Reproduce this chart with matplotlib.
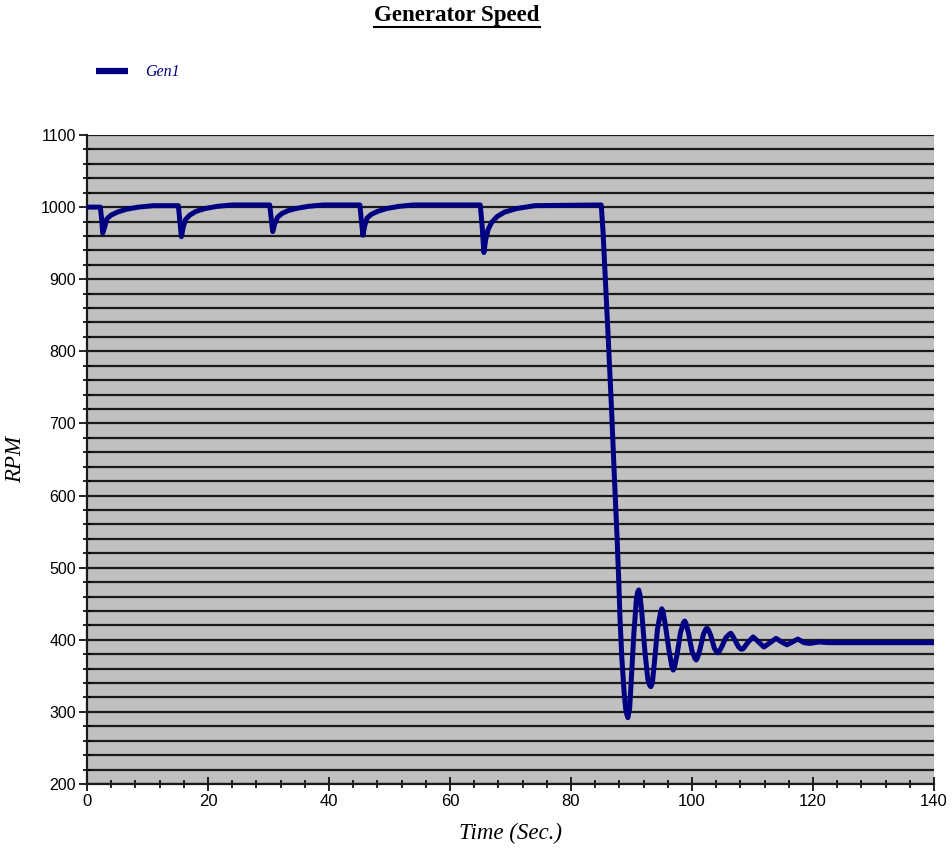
import matplotlib
matplotlib.use("Agg")
import matplotlib.pyplot as plt
from matplotlib.lines import Line2D
from matplotlib.ticker import MultipleLocator

# ---- data ----
time_s = [
    0.0, 2.2, 2.4, 2.6, 2.9, 3.3, 4.0, 5.0, 6.5, 8.5, 11.0, 15.1,
    15.3, 15.6, 15.9, 16.3, 17.0, 18.0, 19.5, 21.5, 24.0, 30.2,
    30.4, 30.7, 31.0, 31.5, 32.2, 33.2, 34.5, 36.5, 39.0, 45.1,
    45.3, 45.6, 45.9, 46.3, 47.0, 48.0, 49.5, 51.5, 54.0, 65.0,
    65.3, 65.6, 65.9, 66.3, 66.9, 67.8, 69.0, 71.0, 74.0, 85.0,
    85.3, 85.8, 86.2, 86.7, 87.2, 87.6, 87.9, 88.1, 88.4, 88.8,
    89.1, 89.4, 89.7, 90.0, 90.4, 90.8, 91.0, 91.2, 91.4, 91.7,
    92.2, 92.7, 93.0, 93.2, 93.45, 93.8, 94.3, 94.8, 95.0, 95.2,
    95.6, 96.2, 96.7, 96.9, 97.1, 97.5, 98.1, 98.6, 98.8, 99.0,
    99.4, 100.0, 100.5, 100.7, 100.9, 101.3, 101.9, 102.3, 102.5, 102.7,
    103.1, 103.7, 104.1, 104.3, 104.5, 104.9, 105.6, 106.2, 106.4, 106.6,
    107.0, 107.7, 108.1, 108.3, 108.5, 109.2, 110.1, 111.0, 111.9, 112.9,
    113.9, 114.8, 115.7, 116.6, 117.5, 118.5, 119.5, 121.0, 122.5, 125.0,
    130.0, 135.0, 140.0,
]
rpm = [
    1000, 1000, 985, 964, 972, 984, 989, 993, 997, 1000, 1002, 1002,
    985, 959, 972, 983, 989, 994, 998, 1001, 1003, 1003,
    988, 966, 976, 986, 991, 995, 998, 1001, 1003, 1003,
    986, 961, 974, 985, 990, 994, 998, 1001, 1003, 1003,
    975, 937, 955, 969, 979, 987, 993, 998, 1002, 1003,
    965, 880, 810, 720, 620, 545, 480, 430, 375, 325,
    300, 292, 305, 350, 410, 455, 466, 469, 462, 438,
    385, 345, 337, 335, 340, 370, 415, 438, 443, 440,
    420, 385, 362, 358, 362, 378, 410, 424, 426, 423,
    410, 384, 374, 372, 375, 386, 408, 415, 416, 414,
    406, 388, 383, 382, 384, 390, 403, 408, 409, 407,
    401, 390, 387, 387, 388, 396, 404, 397, 390, 396,
    402, 397, 393, 397, 401, 396, 395, 397, 396, 396,
    396, 396, 396,
]
series_name = "Gen1"
x_ticks = [0, 20, 40, 60, 80, 100, 120, 140]
y_ticks = [200, 300, 400, 500, 600, 700, 800, 900, 1000, 1100]

NAVY = "#000080"

fig = plt.figure(figsize=(9.52, 8.52), dpi=100)
ax = fig.add_axes([87 / 952, 1 - 784 / 852, (934 - 87) / 952, (784 - 135) / 852])
ax.set_facecolor("#C0C0C0")

ax.plot(time_s, rpm, color=NAVY, lw=3.6, solid_joinstyle="round", solid_capstyle="round", zorder=3)

ax.set_xlim(0, 140)
ax.set_ylim(200, 1100)
ax.set_xticks(x_ticks)
ax.set_yticks(y_ticks)
ax.xaxis.set_minor_locator(MultipleLocator(4))
ax.yaxis.set_minor_locator(MultipleLocator(20))
ax.yaxis.grid(True, which="both", color="#1a1a1a", lw=1.6, zorder=1)
ax.set_axisbelow(True)

for s in ["top", "right"]:
    ax.spines[s].set_visible(False)
for s in ["left", "bottom"]:
    ax.spines[s].set_linewidth(1.6)
    ax.spines[s].set_color("#1a1a1a")

ax.tick_params(axis="x", which="major", direction="inout", length=10, width=1.2, pad=2)
ax.tick_params(axis="x", which="minor", direction="inout", length=6, width=1.2)
ax.tick_params(axis="y", which="major", direction="out", length=6, width=1.2, pad=2)
ax.tick_params(axis="y", which="minor", direction="inout", length=6, width=1.2)
for lab in ax.get_xticklabels():
    lab.set_fontfamily("Liberation Sans")
    lab.set_fontsize(12)
for lab in ax.get_yticklabels():
    lab.set_fontfamily("Liberation Sans")
    lab.set_fontsize(11.5)

ax.set_xlabel("Time (Sec.)", family="Liberation Serif", style="italic", fontsize=16.5, labelpad=10)
ax.set_ylabel("RPM", family="Liberation Serif", style="italic", fontsize=16.5, labelpad=10)

# title with underline
title = fig.text(457 / 952, 1 - 15 / 852, "Generator Speed", ha="center", va="center",
                 family="Liberation Serif", weight="bold", fontsize=16.5)

# legend (manual, matching reference placement)
fig.add_artist(Line2D([96 / 952, 128 / 952], [1 - 71 / 852, 1 - 71 / 852], color=NAVY, lw=4.5,
                      solid_capstyle="butt"))
fig.text(145 / 952, 1 - 72 / 852, series_name, ha="left", va="center", family="Liberation Serif",
         style="italic", fontsize=11.5, color=NAVY)

fig.canvas.draw()
bb = title.get_window_extent(renderer=fig.canvas.get_renderer())
uy = (bb.y0 - 1) / fig.bbox.height
fig.add_artist(Line2D([bb.x0 / fig.bbox.width, bb.x1 / fig.bbox.width], [uy, uy], color="black", lw=1.5))

fig.savefig("out.png", dpi=100)
